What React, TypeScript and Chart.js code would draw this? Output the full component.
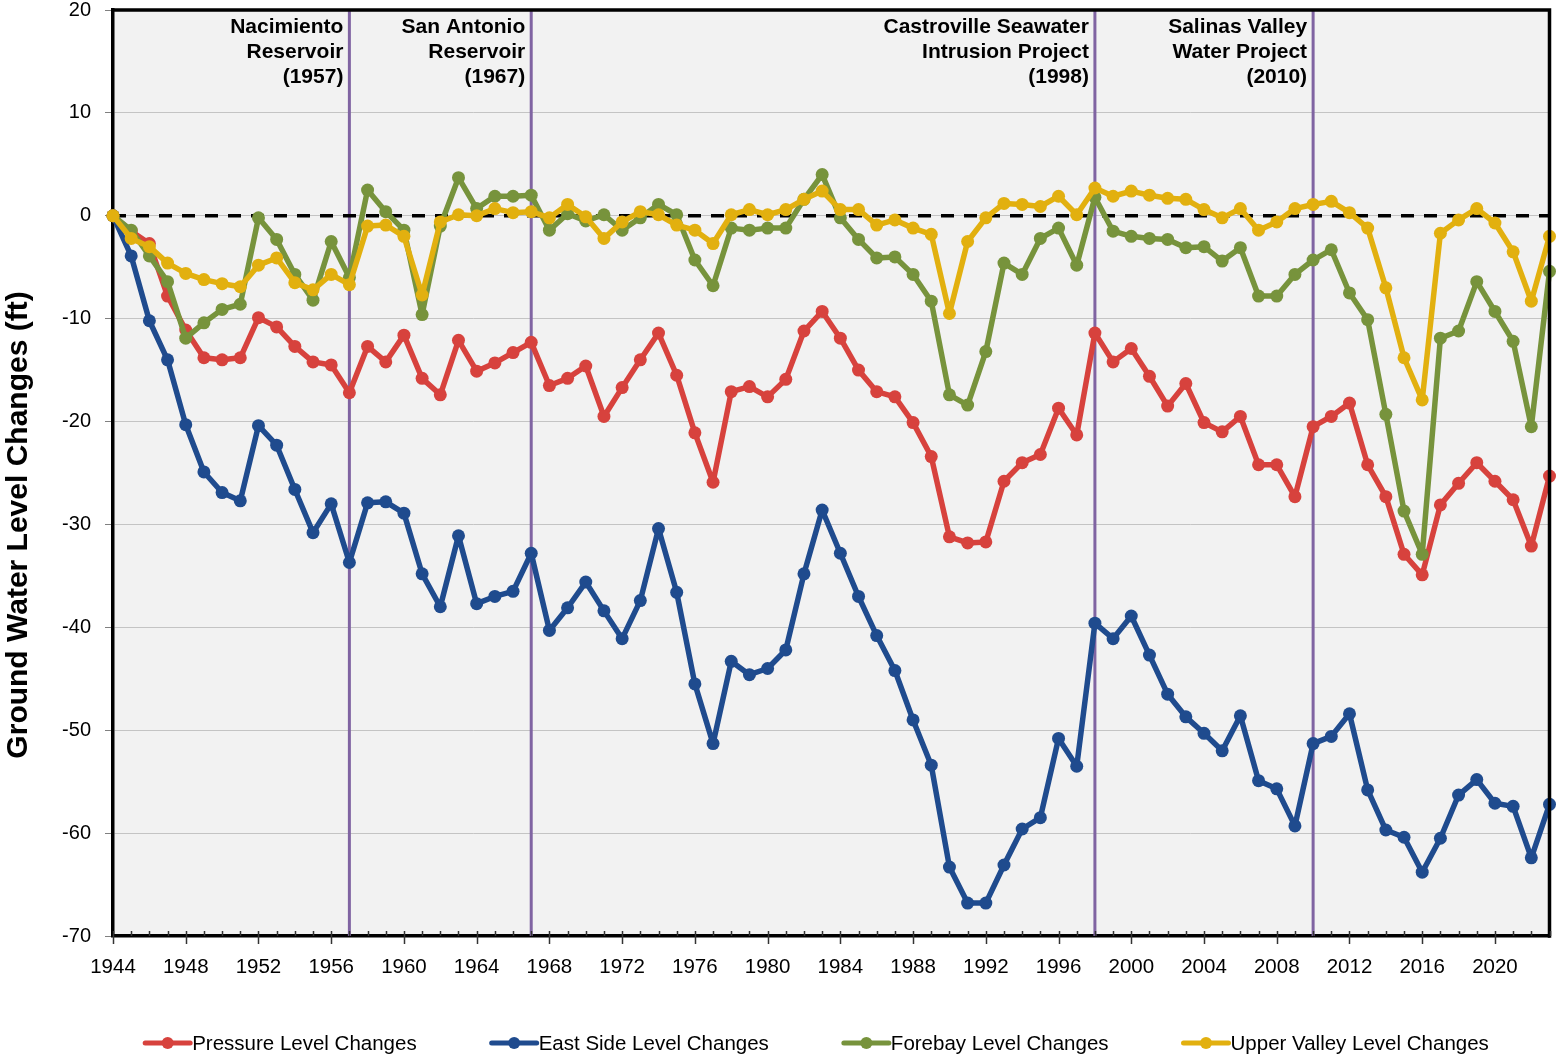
import React, { useEffect, useRef } from "react";
import { Chart, registerables } from "chart.js";

Chart.register(...registerables);

const years = [
  1944, 1945, 1946, 1947, 1948, 1949, 1950, 1951, 1952, 1953, 1954, 1955, 1956, 1957, 1958, 1959,
  1960, 1961, 1962, 1963, 1964, 1965, 1966, 1967, 1968, 1969, 1970, 1971, 1972, 1973, 1974, 1975,
  1976, 1977, 1978, 1979, 1980, 1981, 1982, 1983, 1984, 1985, 1986, 1987, 1988, 1989, 1990, 1991,
  1992, 1993, 1994, 1995, 1996, 1997, 1998, 1999, 2000, 2001, 2002, 2003, 2004, 2005, 2006, 2007,
  2008, 2009, 2010, 2011, 2012, 2013, 2014, 2015, 2016, 2017, 2018, 2019, 2020, 2021, 2022, 2023,
];

const pressure = [
  0, -1.5, -2.7, -7.8, -11.1, -13.8, -14, -13.8, -9.9, -10.8, -12.7, -14.2, -14.5, -17.2, -12.7, -14.2,
  -11.6, -15.8, -17.4, -12.1, -15.1, -14.3, -13.3, -12.3, -16.5, -15.8, -14.6, -19.5, -16.7, -14, -11.4, -15.5,
  -21.1, -25.9, -17.1, -16.6, -17.6, -15.9, -11.2, -9.3, -11.9, -15, -17.1, -17.6, -20.1, -23.4, -31.2, -31.8,
  -31.7, -25.8, -24, -23.2, -18.7, -21.3, -11.4, -14.2, -12.9, -15.6, -18.5, -16.3, -20.1, -21, -19.5, -24.2,
  -24.2, -27.3, -20.5, -19.5, -18.2, -24.2, -27.3, -32.9, -34.9, -28.1, -26, -24, -25.8, -27.6, -32.1, -25.3,
];

const eastSide = [
  0, -3.9, -10.2, -14, -20.3, -24.9, -26.9, -27.7, -20.4, -22.3, -26.6, -30.8, -28, -33.7, -27.9, -27.8,
  -28.9, -34.8, -38, -31.1, -37.7, -37, -36.5, -32.8, -40.3, -38.1, -35.6, -38.4, -41.1, -37.4, -30.4, -36.6,
  -45.5, -51.3, -43.3, -44.6, -44, -42.2, -34.8, -28.6, -32.8, -37, -40.8, -44.2, -49, -53.4, -63.3, -66.8,
  -66.8, -63.1, -59.6, -58.5, -50.8, -53.5, -39.6, -41.1, -38.9, -42.7, -46.5, -48.7, -50.3, -52, -48.6, -54.9,
  -55.7, -59.3, -51.3, -50.6, -48.4, -55.8, -59.7, -60.4, -63.8, -60.5, -56.3, -54.8, -57.1, -57.4, -62.4, -57.2,
];

const forebay = [
  0, -1.4, -3.9, -6.4, -11.9, -10.4, -9.1, -8.6, -0.2, -2.3, -5.7, -8.2, -2.5, -6, 2.5, 0.4,
  -1.4, -9.6, -1, 3.7, 0.7, 1.9, 1.9, 2, -1.4, 0.2, -0.5, 0.1, -1.4, -0.2, 1.1, 0.1,
  -4.3, -6.8, -1.2, -1.4, -1.2, -1.2, 1.6, 4, -0.2, -2.3, -4.1, -4, -5.7, -8.3, -17.4, -18.4,
  -13.2, -4.6, -5.7, -2.2, -1.2, -4.8, 1.8, -1.5, -2, -2.2, -2.3, -3.1, -3, -4.4, -3.1, -7.8,
  -7.8, -5.7, -4.3, -3.3, -7.5, -10.1, -19.3, -28.7, -32.9, -11.9, -11.2, -6.4, -9.3, -12.2, -20.5, -5.4,
];

const upperValley = [
  0, -2.2, -3, -4.6, -5.6, -6.2, -6.6, -6.9, -4.8, -4.1, -6.5, -7.2, -5.7, -6.7, -1, -0.9,
  -2, -7.7, -0.6, 0.1, 0, 0.7, 0.3, 0.4, -0.2, 1.1, -0.1, -2.2, -0.6, 0.4, 0.1, -0.9,
  -1.4, -2.7, 0.1, 0.6, 0.1, 0.6, 1.6, 2.4, 0.6, 0.6, -0.9, -0.4, -1.2, -1.8, -9.5, -2.5,
  -0.2, 1.2, 1.1, 0.9, 1.9, 0.1, 2.7, 1.9, 2.4, 2, 1.7, 1.6, 0.6, -0.2, 0.7, -1.4,
  -0.6, 0.7, 1.1, 1.4, 0.3, -1.2, -7, -13.8, -17.9, -1.7, -0.4, 0.7, -0.7, -3.5, -8.3, -2,
];

const seriesNames = [
  "Pressure Level Changes",
  "East Side Level Changes",
  "Forebay Level Changes",
  "Upper Valley Level Changes",
];
const seriesValues = [pressure, eastSide, forebay, upperValley];
const seriesColors = ["#d7423d", "#1f4b8e", "#77933c", "#e2b00f"];
const seriesOrder = [2, 3, 1, 0];

const eventYears = [1957, 1967, 1998, 2010];
const eventLabels = [
  ["Nacimiento", "Reservoir", "(1957)"],
  ["San Antonio", "Reservoir", "(1967)"],
  ["Castroville Seawater", "Intrusion Project", "(1998)"],
  ["Salinas Valley", "Water Project", "(2010)"],
];

const yMin = -70;
const yMax = 20;
const yStep = 10;
const xLabelEvery = 4;
const yTitle = "Ground Water Level Changes (ft)";

const FONT = "'Liberation Sans', Arial, sans-serif";
const PURPLE = "#8064a2";

const zeroPadding = (s: any) => {
  s.paddingTop = 0;
  s.paddingBottom = 0;
  s.paddingLeft = 0;
  s.paddingRight = 0;
};

const decorPlugin = {
  id: "decor",
  beforeDraw(chart: any) {
    const { ctx, chartArea: a } = chart;
    ctx.save();
    ctx.fillStyle = "#ffffff";
    ctx.fillRect(0, 0, chart.width, chart.height);
    ctx.fillStyle = "#f2f2f2";
    ctx.fillRect(a.left, a.top, a.right - a.left, a.bottom - a.top);
    ctx.restore();
  },
  beforeDatasetsDraw(chart: any) {
    const { ctx, chartArea: a, scales } = chart;
    const xs = scales.x;
    const ys = scales.y;
    ctx.save();
    ctx.strokeStyle = PURPLE;
    ctx.lineWidth = 3;
    eventYears.forEach((yr) => {
      const px = xs.getPixelForValue(yr);
      ctx.beginPath();
      ctx.moveTo(px, a.top);
      ctx.lineTo(px, a.bottom);
      ctx.stroke();
    });
    const y0 = ys.getPixelForValue(0);
    ctx.strokeStyle = "#000";
    ctx.lineWidth = 3.5;
    ctx.setLineDash([13, 10]);
    ctx.beginPath();
    ctx.moveTo(a.left, y0);
    ctx.lineTo(a.right, y0);
    ctx.stroke();
    ctx.restore();
  },
  afterDraw(chart: any) {
    const { ctx, chartArea: a, scales } = chart;
    const xs = scales.x;
    ctx.save();
    ctx.strokeStyle = "#000";
    ctx.lineWidth = 3.5;
    ctx.beginPath();
    ctx.moveTo(a.left - 1.75, a.top);
    ctx.lineTo(a.right, a.top);
    ctx.lineTo(a.right, a.bottom + 1.75);
    ctx.stroke();

    ctx.strokeStyle = "#333";
    ctx.lineWidth = 1.5;
    years.forEach((yr) => {
      const px = Math.round(xs.getPixelForValue(yr)) + 0.5;
      const major = (yr - years[0]) % xLabelEvery === 0;
      ctx.beginPath();
      ctx.moveTo(px, a.bottom - 5);
      ctx.lineTo(px, major ? a.bottom + 8 : a.bottom);
      ctx.stroke();
    });

    ctx.fillStyle = "#000";
    ctx.font = `bold 21px ${FONT}`;
    ctx.textAlign = "right";
    ctx.textBaseline = "alphabetic";
    eventYears.forEach((yr, i) => {
      const px = xs.getPixelForValue(yr) - 6;
      eventLabels[i].forEach((line, j) => {
        ctx.fillText(line, px, a.top + 23 + j * 25);
      });
    });

    ctx.save();
    ctx.translate(19, 525);
    ctx.rotate(-Math.PI / 2);
    ctx.font = `bold 30px ${FONT}`;
    ctx.textAlign = "center";
    ctx.textBaseline = "middle";
    ctx.fillText(yTitle, 0, 0);
    ctx.restore();

    ctx.font = `20.5px ${FONT}`;
    ctx.textAlign = "left";
    ctx.textBaseline = "middle";
    const markerW = 45;
    const gapText = 2;
    const gapItem = 75;
    const widths = seriesNames.map((n) => markerW + gapText + ctx.measureText(n).width);
    const total = widths.reduce((s, w) => s + w, 0) + gapItem * (widths.length - 1);
    let lx = 817 - total / 2;
    const ly = 1043;
    seriesNames.forEach((n, i) => {
      ctx.strokeStyle = seriesColors[i];
      ctx.lineWidth = 5;
      ctx.lineCap = "round";
      ctx.beginPath();
      ctx.moveTo(lx, ly);
      ctx.lineTo(lx + markerW, ly);
      ctx.stroke();
      ctx.fillStyle = seriesColors[i];
      ctx.beginPath();
      ctx.arc(lx + markerW / 2, ly, 6, 0, Math.PI * 2);
      ctx.fill();
      ctx.fillStyle = "#000";
      ctx.fillText(n, lx + markerW + gapText, ly + 1);
      lx += widths[i] + gapItem;
    });
    ctx.restore();
  },
};

export default function App() {
  const canvasRef = useRef<HTMLCanvasElement | null>(null);

  useEffect(() => {
    if (!canvasRef.current) return;
    const chart = new Chart(canvasRef.current, {
      type: "line",
      data: {
        datasets: seriesNames.map((name, i) => ({
          label: name,
          data: years.map((yr, k) => ({ x: yr, y: seriesValues[i][k] })),
          borderColor: seriesColors[i],
          backgroundColor: seriesColors[i],
          pointBackgroundColor: seriesColors[i],
          pointBorderWidth: 0,
          pointRadius: 6.5,
          borderWidth: 5.5,
          borderJoinStyle: "round" as any,
          borderCapStyle: "round" as any,
          tension: 0,
          order: seriesOrder[i],
          clip: false as any,
        })),
      },
      options: {
        animation: false,
        responsive: true,
        maintainAspectRatio: false,
        events: [],
        layout: { padding: { top: 10, right: 3, bottom: 70, left: 0 } },
        plugins: {
          legend: { display: false },
          tooltip: { enabled: false },
        },
        scales: {
          x: {
            type: "linear",
            min: years[0],
            max: years[years.length - 1],
            afterFit: (s: any) => {
              s.height = 50;
              zeroPadding(s);
            },
            ticks: {
              stepSize: 1,
              autoSkip: false,
              maxRotation: 0,
              minRotation: 0,
              padding: 21,
              color: "#000",
              font: { family: FONT, size: 20.5, lineHeight: 1 },
              callback: (v: any) =>
                (Number(v) - years[0]) % xLabelEvery === 0 ? String(v) : "",
            },
            grid: { display: true, drawOnChartArea: false, drawTicks: false },
            border: { display: true, color: "#000", width: 3.5 },
          },
          y: {
            min: yMin,
            max: yMax,
            afterFit: (s: any) => {
              s.width = 113;
              zeroPadding(s);
            },
            ticks: {
              stepSize: yStep,
              padding: 14,
              color: "#000",
              font: { family: FONT, size: 20, lineHeight: 1 },
            },
            grid: {
              color: "#c4c4c4",
              lineWidth: 1,
              drawTicks: true,
              tickLength: 8,
              tickColor: "#808080",
            },
            border: { display: true, color: "#000", width: 3.5 },
          },
        },
      },
      plugins: [decorPlugin],
    });
    return () => chart.destroy();
  }, []);

  return (
    <div
      style={{
        position: "absolute",
        left: 0,
        top: 0,
        width: 1556,
        height: 1056,
        background: "#fff",
      }}
    >
      <canvas ref={canvasRef} />
    </div>
  );
}
